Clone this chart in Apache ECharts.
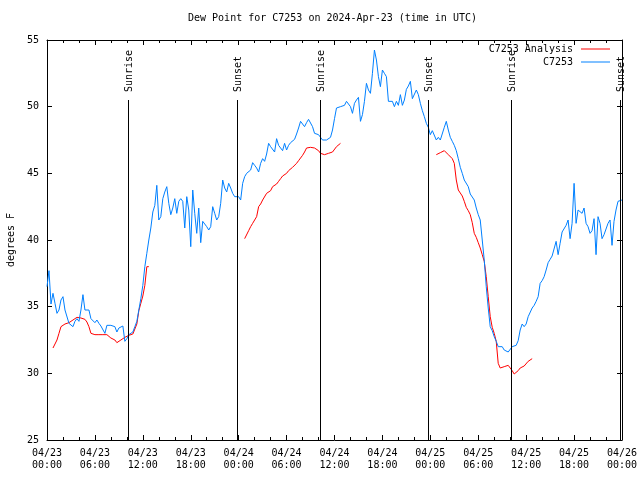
<!DOCTYPE html>
<html>
<head>
<meta charset="utf-8">
<script src="https://cdn.jsdelivr.net/npm/echarts@6/dist/echarts.min.js"></script>
<style>html,body{margin:0;padding:0;background:#fff}#c{width:640px;height:480px}</style>
</head>
<body>
<div id="c"></div>
<script>
// ---- data (hours since 2024-04-23 00:00 UTC) ----
const stepHours = 0.25;
const stationName = 'C7253';
const analysisName = 'C7253 Analysis';
const xTickLabels = ['04/23\n00:00','04/23\n06:00','04/23\n12:00','04/23\n18:00','04/24\n00:00','04/24\n06:00','04/24\n12:00','04/24\n18:00','04/25\n00:00','04/25\n06:00','04/25\n12:00','04/25\n18:00','04/26\n00:00'];
const yTicks = [25,30,35,40,45,50,55];

// observed dew point, every 15 minutes from 00:00
const stationValues = [
36.5,37.7,35.2,36.0,35.25,34.5,34.75,35.5,35.75,34.75,34.6,33.75,33.75,33.5,33.9,34.1,33.9,34.75,35.9,34.75,
34.9,34.75,34.1,34.25,33.8,34.0,33.75,33.55,33.4,33.0,33.6,33.75,33.6,33.7,33.5,33.1,33.4,33.3,33.55,32.4,
32.6,32.9,33.0,33.1,33.5,33.9,34.75,35.6,36.6,38.0,39.0,40.0,40.9,42.1,42.6,44.1,41.5,41.75,43.1,43.6,
44.0,42.75,41.9,42.4,43.1,42.0,42.9,43.1,42.9,40.9,43.25,42.25,39.5,43.75,42.0,40.5,42.4,39.8,41.4,41.5,
41.0,40.75,41.0,42.5,42.0,41.5,41.75,42.75,44.5,43.9,43.6,44.25,43.9,43.5,43.25,43.1,43.25,43.0,44.25,44.75,
45.0,45.0,45.25,45.8,45.6,45.4,45.1,45.75,46.1,45.9,46.45,47.25,47.0,47.0,46.6,47.6,47.1,47.0,46.7,47.25,
46.75,47.1,47.3,47.4,47.55,47.95,48.4,48.9,48.7,48.5,48.8,49.05,48.95,48.5,48.0,48.1,47.9,47.9,47.5,47.5,
47.5,47.6,47.7,48.25,49.1,49.9,50.05,50.0,49.9,50.1,50.4,50.45,50.0,49.5,50.25,50.5,50.7,48.9,49.4,50.4,
51.75,51.25,51.0,52.5,54.25,53.5,52.25,51.5,52.75,52.5,52.25,50.4,50.4,50.4,50.0,50.4,50.1,50.9,50.1,50.5,
51.3,51.55,51.9,50.6,50.75,51.25,50.9,50.25,49.7,49.25,48.75,48.45,47.9,48.2,48.1,47.5,47.7,47.5,47.6,48.45,
48.9,48.25,47.7,47.4,47.1,46.7,46.1,45.45,45.0,44.5,44.6,44.0,43.45,43.3,43.0,42.4,41.9,41.5,40.0,38.5,
36.5,34.9,33.5,33.2,32.75,32.4,32.0,31.9,32.0,31.75,31.9,31.6,31.75,32.0,32.1,32.1,32.45,33.25,33.7,33.5,
33.7,34.25,34.4,34.9,35.1,35.4,35.75,36.75,36.95,37.25,37.75,38.3,38.55,38.8,38.75,39.9,38.9,39.75,40.6,40.75,
41.1,41.5,40.1,41.25,44.25,41.25,42.25,42.4,42.0,42.4,41.25,41.0,40.5,40.7,41.6,38.9,41.75,41.25,40.1,40.4,
40.45,41.25,41.5,39.6,41.4,42.25,42.9,43.05,43.0
];

// analysis dew point, three runs, every 15 minutes from their start hour
const analysisStart1 = 0.75;
const analysisRun1 = [31.9,32.0,32.5,33.0,33.5,33.6,33.7,33.75,33.8,33.9,34.0,34.15,34.2,34.15,34.15,34.1,34.05,33.85,33.5,33.0,
32.9,32.9,32.9,32.9,32.9,32.9,32.9,32.9,32.9,32.65,32.5,32.5,32.3,32.4,32.5,32.6,32.7,32.8,32.85,32.9,
32.95,33.0,33.7,34.7,35.25,35.8,36.6,38.0,38.0];
const analysisStart2 = 24.75;
const analysisRun2 = [40.1,40.1,40.7,41.0,41.25,41.4,41.75,42.5,42.7,43.0,43.1,43.5,43.55,43.7,44.0,44.1,44.2,44.4,44.6,44.8,
44.95,45.0,45.2,45.35,45.45,45.6,45.75,45.95,46.1,46.35,46.6,46.9,46.95,46.95,46.9,46.9,46.85,46.7,46.5,46.4,
46.4,46.45,46.5,46.55,46.6,46.75,47.0,47.1,47.25];
const analysisStart3 = 48.75;
const analysisRun3 = [46.4,46.5,46.55,46.6,46.7,46.6,46.4,46.25,46.1,45.75,44.5,43.75,43.7,43.3,42.9,42.45,42.2,41.9,41.3,40.5,
40.2,39.8,39.4,38.9,38.4,37.25,35.75,34.25,33.45,33.0,32.4,30.75,30.4,30.45,30.5,30.6,30.6,30.45,30.2,29.95,
30.0,30.2,30.4,30.5,30.55,30.6,30.9,31.05,31.1];

// sunrise / sunset markers
const eventHours = [10.18, 23.73, 34.19, 47.75, 58.1, 71.75];
const eventNames = ['Sunrise','Sunset','Sunrise','Sunset','Sunrise','Sunset'];

// ---- build ----
const yMin = 25, yMax = 55;
const FONT = 'DejaVu Sans Mono';
const stationData = stationValues.map((v,i)=>[i*stepHours, v]);
function run(start, arr){ return arr.map((v,i)=>[start + i*stepHours, v]); }
const analysisData = [].concat(
  run(analysisStart1, analysisRun1), [[analysisStart1 + analysisRun1.length*stepHours, null]],
  run(analysisStart2, analysisRun2), [[analysisStart2 + analysisRun2.length*stepHours, null]],
  run(analysisStart3, analysisRun3)
);
const eventData = eventHours.map((h,i)=>[h, i]);

const chart = echarts.init(document.getElementById('c'), null, {renderer:'canvas'});
const axisCommon = {
  axisLine:{show:true, onZero:false, lineStyle:{color:'#000', width:1}},
  splitLine:{show:false},
};
const xBase = Object.assign({}, axisCommon, {
  type:'value', min:0, max:72, interval:6,
  axisTick:{show:true, inside:true, length:5, lineStyle:{color:'#000'}},
  minorTick:{show:true, splitNumber:3, length:3, lineStyle:{color:'#000'}},
});
const yBase = Object.assign({}, axisCommon, {
  type:'value', min:yMin, max:yMax, interval:5,
  axisTick:{show:true, inside:true, length:5, lineStyle:{color:'#000'}},
});

chart.setOption({
  animation:false,
  backgroundColor:'#fff',
  title:{
    text:'Dew Point for ' + stationName + ' on 2024-Apr-23 (time in UTC)',
    left:188, top:13, padding:0,
    textStyle:{fontFamily:FONT, fontSize:10, fontWeight:'normal', color:'#000'}
  },
  legend:[
    {data:[analysisName], right:30, top:44, padding:0, align:'right', icon:'rect', itemWidth:29, itemHeight:1, selectedMode:false,
     textStyle:{fontFamily:FONT, fontSize:10, color:'#000', padding:[0,3,0,0]}},
    {data:[stationName], right:30, top:57, padding:0, align:'right', icon:'rect', itemWidth:29, itemHeight:1, selectedMode:false,
     textStyle:{fontFamily:FONT, fontSize:10, color:'#000', padding:[0,3,0,0]}}
  ],
  grid:{left:47, right:18, top:40, bottom:40, containLabel:false, outerBoundsMode:'none'},
  xAxis:[
    Object.assign({}, xBase, {position:'bottom',
      axisLabel:{show:true, margin:7, lineHeight:12, color:'#000', fontFamily:FONT, fontSize:10,
        formatter:(v)=>xTickLabels[Math.round(v/6)]}}),
    Object.assign({}, xBase, {position:'top', axisLabel:{show:false}})
  ],
  yAxis:[
    Object.assign({}, yBase, {position:'left',
      name:'degrees F', nameLocation:'middle', nameGap:31, nameRotate:90,
      nameTextStyle:{fontFamily:FONT, fontSize:10, color:'#000'},
      axisLabel:{show:true, margin:8, color:'#000', fontFamily:FONT, fontSize:10,
        formatter:(v)=> yTicks.indexOf(v) >= 0 ? String(v) : ''}}),
    Object.assign({}, yBase, {position:'right', axisLabel:{show:false}})
  ],
  series:[
    {name:analysisName, type:'line', data:analysisData, xAxisIndex:0, yAxisIndex:0,
     showSymbol:false, symbol:'none', connectNulls:false, color:'#ff0000',
     lineStyle:{color:'#ff0000', width:1}, z:2},
    {name:stationName, type:'line', data:stationData, xAxisIndex:0, yAxisIndex:0,
     showSymbol:false, symbol:'none', color:'#0080ff',
     lineStyle:{color:'#0080ff', width:1}, z:3},
    {name:'events', type:'custom', data:eventData, xAxisIndex:0, yAxisIndex:0, z:4, clip:false,
     renderItem:function(params, api){
       const h = api.value(0);
       const name = eventNames[api.value(1)];
       const b = api.coord([h, yMin]);
       const t = api.coord([h, yMin + 0.85*(yMax-yMin)]);
       const l = api.coord([h, yMin + 0.87*(yMax-yMin)]);
       const px = Math.round(b[0]) + 0.5;
       return {type:'group', children:[
         {type:'line', shape:{x1:px, y1:b[1], x2:px, y2:t[1]}, style:{stroke:'#000', lineWidth:1}},
         {type:'text', x:Math.round(l[0]) + 1, y:l[1], rotation:Math.PI/2,
          style:{text:name, fill:'#000', font:'10px "' + FONT + '"', align:'left', verticalAlign:'middle'}}
       ]};
     }}
  ]
});
</script>
</body>
</html>
